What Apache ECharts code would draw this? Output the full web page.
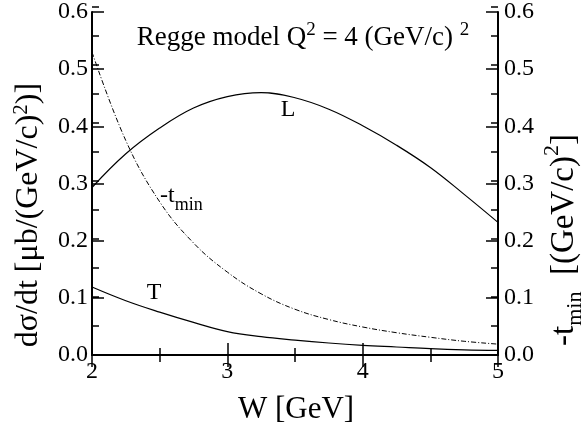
<!DOCTYPE html>
<html>
<head>
<meta charset="utf-8">
<script src="https://cdn.jsdelivr.net/npm/echarts@6/dist/echarts.min.js"></script>
<style>
html, body {margin: 0; padding: 0; background: #fff;}
#chart {width: 584px; height: 429px;}
</style>
</head>
<body>
<div id="chart"></div>
<script>
// W [GeV]
var wValues = [2.0, 2.25, 2.5, 2.75, 3.0, 3.25, 3.5, 3.75, 4.0, 4.25, 4.5, 4.75, 5.0];
// dσ/dt longitudinal
var sigmaL = [0.293, 0.352, 0.397, 0.432, 0.452, 0.459, 0.450, 0.430, 0.401, 0.367, 0.328, 0.281, 0.232];
// dσ/dt transverse
var sigmaT = [0.119, 0.095, 0.075, 0.057, 0.041, 0.032, 0.026, 0.021, 0.017, 0.014, 0.011, 0.009, 0.008];
// -t_min (right axis)
var tMin = [0.530, 0.375, 0.268, 0.196, 0.145, 0.107, 0.080, 0.062, 0.049, 0.039, 0.031, 0.024, 0.019];

var serif = '"Liberation Serif", "DejaVu Serif", serif';

function pairs(ys) {
    var out = [];
    for (var i = 0; i < wValues.length; i++) {
        out.push([wValues[i], ys[i]]);
    }
    return out;
}

var chart = echarts.init(document.getElementById('chart'));

var axisLine = {show: true, lineStyle: {color: '#000', width: 2}};
var tick = {show: true, inside: true, length: 12, lineStyle: {color: '#000', width: 1.5}};
var smallTick = {show: true, inside: true, length: 7, lineStyle: {color: '#000', width: 1.5}};
var gridBox = {left: 92, right: 86, top: 7, bottom: 74};

function yAxisDef(pos, margin) {
    return {
        type: 'value', gridIndex: 0, position: pos, min: 0, max: 0.6, interval: 0.1,
        axisLine: axisLine, axisTick: tick, splitLine: {show: false},
        axisLabel: {
            color: '#000', fontFamily: serif, fontSize: 24, margin: margin,
            formatter: function (v) { return v.toFixed(1); }
        }
    };
}

// second grid on the same box only carries the short (minor) ticks
function minorX(pos) {
    return {
        type: 'value', gridIndex: 1, position: pos, min: 2, max: 5, interval: 0.5,
        axisLine: {show: false}, axisTick: smallTick, axisLabel: {show: false}, splitLine: {show: false}
    };
}
function minorY(pos) {
    return {
        type: 'value', gridIndex: 1, position: pos, min: 0, max: 0.6, interval: 0.05,
        axisLine: {show: false}, axisTick: smallTick, axisLabel: {show: false}, splitLine: {show: false}
    };
}

var option = {
    animation: false,
    grid: [gridBox, gridBox],
    xAxis: [
        {
            type: 'value', gridIndex: 0, min: 2, max: 5, interval: 1,
            axisLine: axisLine, axisTick: tick, splitLine: {show: false},
            axisLabel: {color: '#000', fontFamily: serif, fontSize: 24, margin: 5}
        },
        {
            type: 'value', gridIndex: 0, position: 'top', min: 2, max: 5, interval: 1,
            axisLine: axisLine, axisTick: tick, splitLine: {show: false},
            axisLabel: {show: false}
        },
        minorX('bottom'),
        minorX('top')
    ],
    yAxis: [
        yAxisDef('left', 4),
        yAxisDef('right', 6),
        minorY('left'),
        minorY('right')
    ],
    series: [
        {
            name: 'L', type: 'line', data: pairs(sigmaL), smooth: 0.4,
            showSymbol: false, lineStyle: {color: '#000', width: 1.2}
        },
        {
            name: 'T', type: 'line', data: pairs(sigmaT), smooth: 0.4,
            showSymbol: false, lineStyle: {color: '#000', width: 1.2}
        },
        {
            name: '-tmin', type: 'line', yAxisIndex: 1, data: pairs(tMin), smooth: 0.4,
            showSymbol: false, lineStyle: {color: '#000', width: 1, type: [5, 2, 1, 2]}
        }
    ],
    graphic: [
        {
            type: 'text', x: 303, y: 38,
            style: {
                text: 'Regge model Q{sup|2} = 4 (GeV/c) {sup|2}',
                font: '27px ' + serif, fill: '#000', align: 'center', verticalAlign: 'middle',
                rich: {sup: {fontSize: 19, fontFamily: serif, verticalAlign: 'top', lineHeight: 34}}
            }
        },
        {
            type: 'text', x: 288, y: 110,
            style: {text: 'L', font: '24px ' + serif, fill: '#000', align: 'center', verticalAlign: 'middle'}
        },
        {
            type: 'text', x: 154, y: 293,
            style: {text: 'T', font: '24px ' + serif, fill: '#000', align: 'center', verticalAlign: 'middle'}
        },
        {
            type: 'text', x: 160, y: 196,
            style: {
                text: '-t{sub|min}',
                font: '24px ' + serif, fill: '#000', align: 'left', verticalAlign: 'middle',
                rich: {sub: {fontSize: 18, fontFamily: serif, verticalAlign: 'bottom', lineHeight: 36}}
            }
        },
        {
            type: 'text', x: 29, y: 215, rotation: Math.PI / 2,
            style: {
                text: 'dσ/dt [μb/(GeV/c){sup|2})]',
                font: '32px ' + serif, fill: '#000', align: 'center', verticalAlign: 'middle',
                rich: {sup: {fontSize: 21, fontFamily: serif, verticalAlign: 'top', lineHeight: 37}}
            }
        },
        {
            type: 'text', x: 564, y: 240, rotation: Math.PI / 2,
            style: {
                text: '-t{sub|min}  [(GeV/c){sup|2}]',
                font: '33px ' + serif, fill: '#000', align: 'center', verticalAlign: 'middle',
                rich: {
                    sub: {fontSize: 22, fontFamily: serif, verticalAlign: 'bottom', lineHeight: 45},
                    sup: {fontSize: 22, fontFamily: serif, verticalAlign: 'top', lineHeight: 45}
                }
            }
        },
        {
            type: 'text', x: 296, y: 410,
            style: {text: 'W [GeV]', font: '31px ' + serif, fill: '#000', align: 'center', verticalAlign: 'middle'}
        }
    ]
};

chart.setOption(option);
</script>
</body>
</html>
